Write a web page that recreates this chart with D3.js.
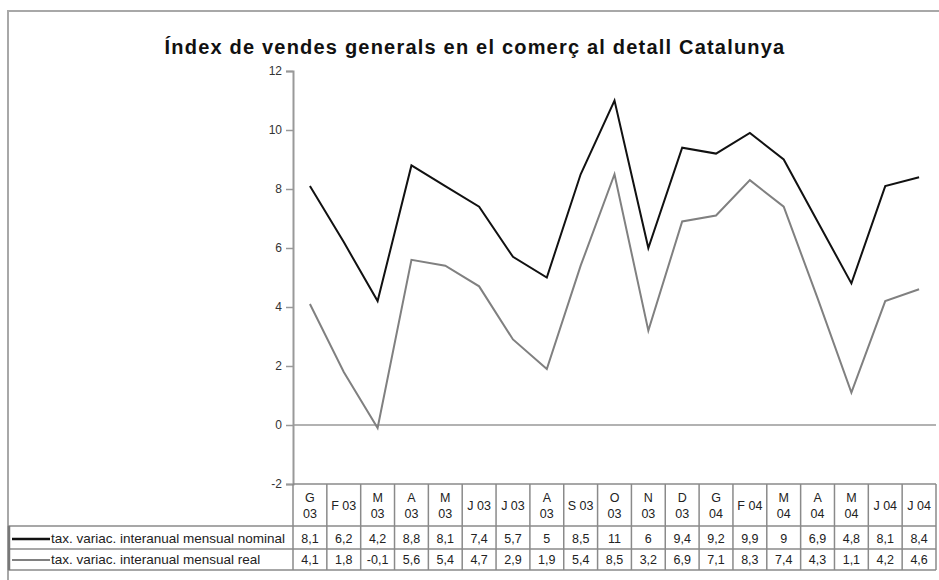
<!DOCTYPE html>
<html><head><meta charset="utf-8">
<script src="https://cdn.jsdelivr.net/npm/d3@7"></script>
<style>
html,body{margin:0;padding:0;background:#fff;}
svg{display:block;font-family:"Liberation Sans",Arial,sans-serif;}
</style></head>
<body>
<svg id="chart" width="939" height="580"></svg>
<script>
const title = "Índex de vendes generals en el comerç al detall Catalunya";
const categories = ["G\n03","F 03","M\n03","A\n03","M\n03","J 03","J 03","A\n03","S 03","O\n03","N\n03","D\n03","G\n04","F 04","M\n04","A\n04","M\n04","J 04","J 04"];
const seriesNames = ["tax. variac. interanual mensual nominal","tax. variac. interanual mensual real"];
const nominal = [8.1,6.2,4.2,8.8,8.1,7.4,5.7,5,8.5,11,6,9.4,9.2,9.9,9,6.9,4.8,8.1,8.4];
const real = [4.1,1.8,-0.1,5.6,5.4,4.7,2.9,1.9,5.4,8.5,3.2,6.9,7.1,8.3,7.4,4.3,1.1,4.2,4.6];
const yTicks = [-2,0,2,4,6,8,10,12];

const svg = d3.select("#chart");
const colors = ["#111111","#808080"];
const series = [nominal, real];

const x = d3.scaleBand().domain(d3.range(categories.length)).range([293, 936]);
const y = d3.scaleLinear().domain([-2, 12]).range([484, 71]);
const loc = d3.formatLocale({decimal: ",", thousands: ".", grouping: [3], currency: ["", ""], minus: "-"});
const fmt = loc.format("");

// outer frame
svg.append("path").attr("d", "M8,580 V11 H939").attr("fill", "none").attr("stroke", "#a8a8a8").attr("stroke-width", 2);

// title
svg.append("text").attr("x", 475).attr("y", 54).attr("text-anchor", "middle")
  .attr("font-size", 20).attr("font-weight", "bold").attr("fill", "#111").attr("letter-spacing", 1.2).text(title);

// zero line
svg.append("line").attr("x1", 293).attr("x2", 936).attr("y1", y(0)).attr("y2", y(0))
  .attr("stroke", "#999").attr("stroke-width", 1.5);

// y axis
const ax = svg.append("g").attr("transform", "translate(293,0)")
  .call(d3.axisLeft(y).tickValues(yTicks).tickSize(7).tickPadding(4).tickFormat(loc.format("")));
ax.select(".domain").attr("stroke", "#999").attr("stroke-width", 2);
ax.selectAll(".tick line").attr("stroke", "#999").attr("stroke-width", 1.5);
ax.selectAll(".tick text").attr("font-size", 12).attr("fill", "#333").attr("font-family", "Liberation Sans, Arial, sans-serif");

// lines
const line = d3.line().x((d, i) => x(i) + x.bandwidth() / 2).y(d => y(d));
series.forEach((s, k) => {
  svg.append("path").datum(s).attr("d", line).attr("fill", "none")
    .attr("stroke", colors[k]).attr("stroke-width", 2).attr("stroke-linejoin", "miter");
});

// data table
const rowTop = [484, 526, 549];
const rowBot = 570;
const grid = svg.append("g").attr("stroke", "#8a8a8a").attr("stroke-width", 1.5);
grid.append("line").attr("x1", 293).attr("x2", 936).attr("y1", rowTop[0]).attr("y2", rowTop[0]);
[rowTop[1], rowTop[2], rowBot].forEach(yy => {
  grid.append("line").attr("x1", 8).attr("x2", 936).attr("y1", yy).attr("y2", yy);
});
d3.range(categories.length + 1).forEach(i => {
  const xx = i < categories.length ? x(i) : x(categories.length - 1) + x.bandwidth();
  grid.append("line").attr("x1", xx).attr("x2", xx).attr("y1", rowTop[0]).attr("y2", rowBot);
});
grid.append("line").attr("x1", 9).attr("x2", 9).attr("y1", rowTop[1]).attr("y2", rowBot).attr("stroke-width", 2.5).attr("stroke", "#777");

// header labels
categories.forEach((c, i) => {
  const parts = c.split("\n");
  const cx = x(i) + x.bandwidth() / 2;
  const t = svg.append("text").attr("text-anchor", "middle").attr("font-size", 12.5).attr("fill", "#222");
  if (parts.length === 1) {
    t.attr("x", cx).attr("y", 510).text(parts[0]);
  } else {
    parts.forEach((p, j) => t.append("tspan").attr("x", cx).attr("y", 502 + j * 16).text(p));
  }
});

// rows
const rowMid = [543, 564];
series.forEach((s, k) => {
  svg.append("line").attr("x1", 12).attr("x2", 50).attr("y1", rowMid[k] - 4).attr("y2", rowMid[k] - 4)
    .attr("stroke", colors[k]).attr("stroke-width", k === 0 ? 2.5 : 1.8);
  svg.append("text").attr("x", 51).attr("y", rowMid[k]).attr("font-size", 13.5).attr("fill", "#222").text(seriesNames[k]);
  s.forEach((v, i) => {
    svg.append("text").attr("x", x(i) + x.bandwidth() / 2).attr("y", rowMid[k]).attr("text-anchor", "middle")
      .attr("font-size", 12.5).attr("fill", "#222").text(fmt(v));
  });
});
</script>
</body></html>
